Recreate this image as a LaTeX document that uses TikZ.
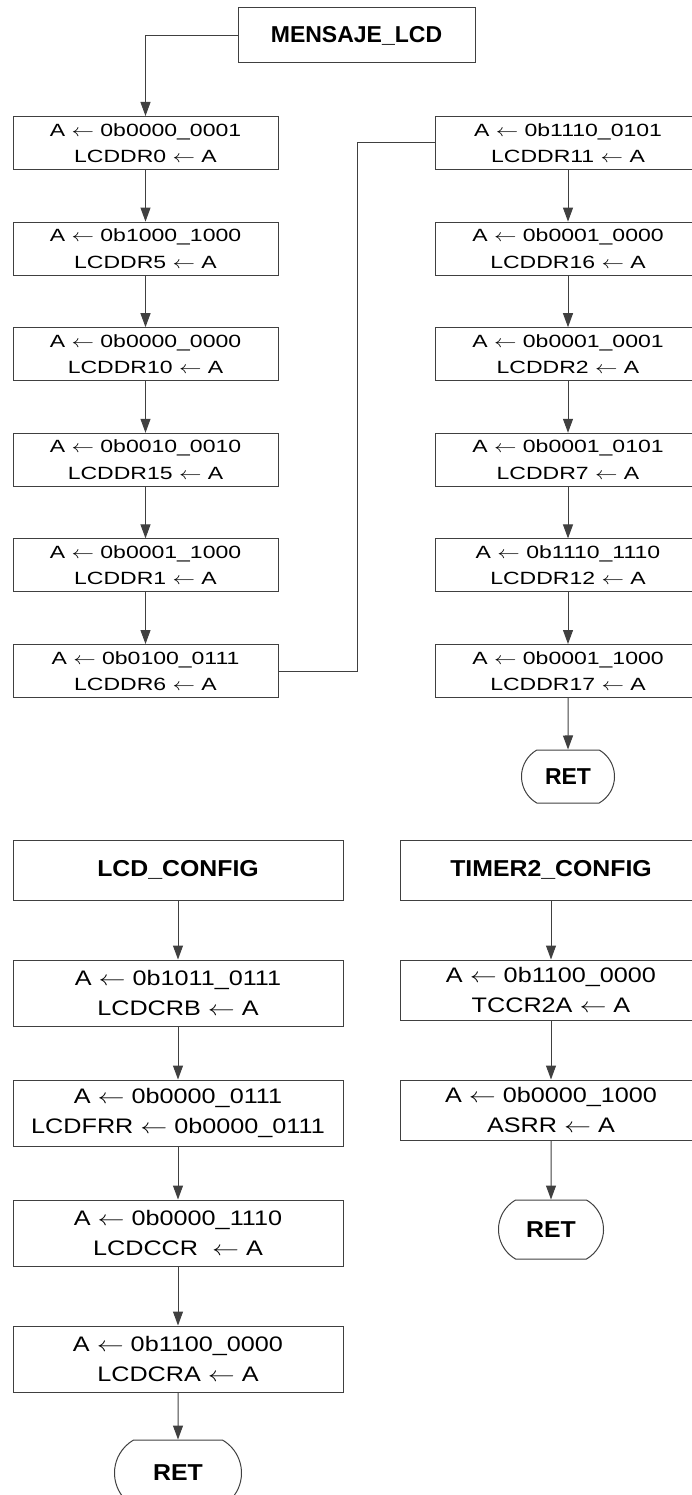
\documentclass[tikz,border=0pt]{standalone}
\usepackage{fontspec}
\setmainfont{Liberation Sans}
\newfontfamily\wideA{Liberation Sans}[FakeStretch=1.3]
\newfontfamily\wideB{Liberation Sans}[FakeStretch=1.2]
\newfontfamily\wideC{Liberation Sans}[FakeStretch=1.08]
\usetikzlibrary{arrows.meta,shapes.misc}

\newcommand\getsarrow{\scalebox{1.3}[1]{$\leftarrow$}}

\tikzset{
  blk/.style={draw=black!75, rectangle, inner sep=0pt, align=center},
  opA/.style={blk, minimum width=265pt, minimum height=53pt,
              font=\wideA\fontsize{17.7}{26.5}\selectfont},
  opB/.style={blk, minimum height=66pt,
              font=\wideB\fontsize{21}{30}\selectfont},
  ttl/.style={blk, font=\bfseries\fontsize{23}{27}\selectfont},
  ttlB/.style={blk, minimum height=60pt, font=\wideC\bfseries\fontsize{23}{27}\selectfont},
  retbox/.style={draw=black!75, rounded rectangle, rounded rectangle arc length=120,
                 inner sep=0pt, font=\bfseries\fontsize{23}{27}\selectfont}
}

\begin{document}
\begin{tikzpicture}[x=1pt, y=-1pt, line width=1pt, draw=black!75,
  >={Triangle[length=14pt,width=10pt]}]
  \useasboundingbox (0,0) rectangle (691,1495);

  % MENSAJE_LCD
  \node[ttl, minimum width=237pt, minimum height=55pt] (msg) at (356.5,35.5) {MENSAJE\_LCD};
  \foreach \i/\v/\r [evaluate=\i as \y using 143+(\i-1)*105.6] in
      {1/0000\_0001/0, 2/1000\_1000/5, 3/0000\_0000/10,
       4/0010\_0010/15, 5/0001\_1000/1, 6/0100\_0111/6}{
    \node[opA] (l\i) at (145.5,\y) {A \getsarrow\ 0b\v\\LCDDR\r\ \getsarrow\ A};
  }
  \foreach \i/\v/\r [evaluate=\i as \y using 143+(\i-1)*105.6] in
      {1/1110\_0101/11, 2/0001\_0000/16, 3/0001\_0001/2,
       4/0001\_0101/7, 5/1110\_1110/12, 6/0001\_1000/17}{
    \node[opA] (r\i) at (568,\y) {A \getsarrow\ 0b\v\\LCDDR\r\ \getsarrow\ A};
  }
  \node[retbox, minimum width=93pt, minimum height=53pt] (ret1) at (568,776.5) {RET};

  \draw[->] (msg.west) -| (l1.north);
  \foreach \i [count=\j from 2] in {1,...,5}{
    \draw[->] (l\i) -- (l\j);
    \draw[->] (r\i) -- (r\j);
  }
  \draw[->] (r6) -- (ret1);
  % jump to second column
  \coordinate (jog) at (357,0);
  \draw (l6.east) -- (l6.east -| jog) |- (r1.west);

  % LCD_CONFIG
  \node[ttlB, minimum width=330pt] (lcd) at (178,870) {LCD\_CONFIG};
  \node[opB, minimum width=330pt] (c1) at (178,993) {A \getsarrow\ 0b1011\_0111\\LCDCRB \getsarrow\ A};
  \node[opB, minimum width=330pt] (c2) at (178,1113) {A \getsarrow\ 0b0000\_0111\\LCDFRR \getsarrow\ 0b0000\_0111};
  \node[opB, minimum width=330pt] (c3) at (178,1233) {A \getsarrow\ 0b0000\_1110\\LCDCCR~ \getsarrow\ A};
  \node[opB, minimum width=330pt] (c4) at (178,1359) {A \getsarrow\ 0b1100\_0000\\LCDCRA \getsarrow\ A};
  \node[retbox, font=\wideC\bfseries\fontsize{23}{27}\selectfont,
        minimum width=127pt, minimum height=66pt] (ret2) at (178,1473) {RET};
  \draw[->] (lcd) -- (c1);
  \draw[->] (c1) -- (c2);
  \draw[->] (c2) -- (c3);
  \draw[->] (c3) -- (c4);
  \draw[->] (c4) -- (ret2);

  % TIMER2_CONFIG
  \node[ttlB, minimum width=302pt] (tmr) at (551,870) {TIMER2\_CONFIG};
  \node[opB, minimum width=302pt, minimum height=60pt] (t1) at (551,990) {A \getsarrow\ 0b1100\_0000\\TCCR2A \getsarrow\ A};
  \node[opB, minimum width=302pt, minimum height=60pt] (t2) at (551,1110) {A \getsarrow\ 0b0000\_1000\\ASRR \getsarrow\ A};
  \node[retbox, font=\wideC\bfseries\fontsize{23}{27}\selectfont,
        minimum width=105pt, minimum height=59pt] (ret3) at (551,1229.5) {RET};
  \draw[->] (tmr) -- (t1);
  \draw[->] (t1) -- (t2);
  \draw[->] (t2) -- (ret3);
\end{tikzpicture}
\end{document}
